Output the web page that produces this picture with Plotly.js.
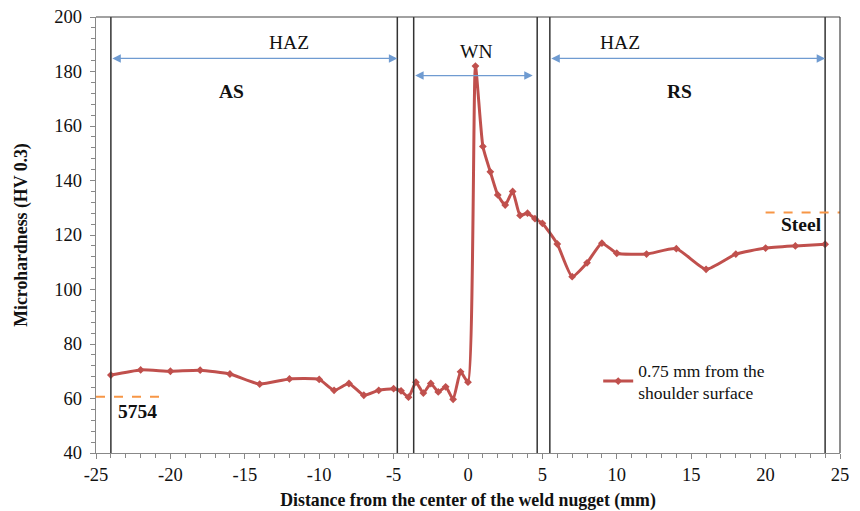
<!DOCTYPE html>
<html>
<head>
<meta charset="utf-8">
<script src="https://cdn.plot.ly/plotly-3.0.1.min.js"></script>
<style>html,body{margin:0;padding:0;background:#fff;}#chart{width:860px;height:511px;}</style>
</head>
<body>
<div id="chart"></div>
<script>
// Data
const distance = [-24,-22,-20,-18,-16,-14,-12,-10,-9,-8,-7,-6,-5,-4.5,-4,-3.5,-3,-2.5,-2,-1.5,-1,-0.5,0,0.5,1,1.5,2,2.5,3,3.5,4,4.5,5,6,7,8,9,10,12,14,16,18,20,22,24];
const hardness = [68.6,70.5,70,70.4,69,65.3,67.2,67,63,65.5,61.2,63,63.6,62.8,60.5,66,62,65.5,62.4,64.3,59.7,69.8,66,182,152.5,143.2,134.7,131,136,127.2,128,126,124.3,116.7,104.7,109.8,117,113.3,113,115,107.4,113,115.2,116,116.6];
const seriesName = "0.75 mm from the<br>shoulder surface";
const zoneBoundaries = [-24, -4.75, -3.65, 4.65, 5.5, 24];
const baseMetal5754 = {x0: -25, x1: -20.4, y: 60.6, label: "5754", lx: -22.2, ly: 55.4};
const baseMetalSteel = {x0: 20, x1: 25, y: 128.3, label: "Steel", lx: 22.4, ly: 123.9};
const zoneArrows = [
  {x0: -24, x1: -4.75, y: 184.8, label: "HAZ", lx: -12.0, ly: 190.5},
  {x0: -3.65, x1: 4.35, y: 178.5, label: "WN", lx: 0.6, ly: 187.5},
  {x0: 5.5, x1: 24, y: 184.8, label: "HAZ", lx: 10.2, ly: 190.5}
];
const sideLabels = [{text: "AS", x: -15.9, y: 172.8}, {text: "RS", x: 14.2, y: 172.8}];
const xTicks = [-25,-20,-15,-10,-5,0,5,10,15,20,25];
const yTicks = [40,60,80,100,120,140,160,180,200];

const serif = "Liberation Serif, serif";
const red = "#c0504d";
const blue = "#6f9bd1";
const orange = "#f79646";

const traces = [{
  x: distance, y: hardness, type: "scatter", mode: "lines+markers",
  name: seriesName,
  line: {color: red, width: 3, shape: "spline", smoothing: 0.5},
  marker: {symbol: "diamond", size: 6, color: red}
}];

const shapes = [];
zoneBoundaries.forEach(b => shapes.push({type: "line", xref: "x", yref: "y", x0: b, x1: b, y0: 40, y1: 200, line: {color: "#333", width: 1.5}}));
[baseMetal5754, baseMetalSteel].forEach(m => shapes.push({type: "line", xref: "x", yref: "y", x0: m.x0, x1: m.x1, y0: m.y, y1: m.y, line: {color: orange, width: 2, dash: "dash"}}));
shapes.push({type: "line", xref: "paper", yref: "paper", x0: 0, x1: 1, y0: 1, y1: 1, line: {color: "#444", width: 1.2}});
shapes.push({type: "line", xref: "paper", yref: "paper", x0: 1, x1: 1, y0: 0, y1: 1, line: {color: "#444", width: 1.2}});

const annFont = {family: serif, size: 19.5, color: "#111"};
const annotations = [];
zoneArrows.forEach(a => {
  annotations.push({x: a.x1, y: a.y, ax: a.x0, ay: a.y, xref: "x", yref: "y", axref: "x", ayref: "y", text: "", showarrow: true, arrowhead: 2, startarrowhead: 2, arrowside: "end+start", arrowsize: 1.3, startarrowsize: 1.3, arrowwidth: 1.3, arrowcolor: blue});
  annotations.push({x: a.lx, y: a.ly, xref: "x", yref: "y", text: a.label, showarrow: false, font: annFont});
});
sideLabels.forEach(s => annotations.push({x: s.x, y: s.y, xref: "x", yref: "y", text: "<b>" + s.text + "</b>", showarrow: false, font: annFont}));
[baseMetal5754, baseMetalSteel].forEach(m => annotations.push({x: m.lx, y: m.ly, xref: "x", yref: "y", text: "<b>" + m.label + "</b>", showarrow: false, font: annFont}));

const layout = {
  width: 860, height: 511,
  margin: {l: 96, r: 20, t: 17, b: 58},
  paper_bgcolor: "#fff", plot_bgcolor: "#fff",
  font: {family: serif, size: 16, color: "#111"},
  showlegend: true,
  legend: {x: 0.675, y: 0.232, xanchor: "left", yanchor: "top", bgcolor: "rgba(0,0,0,0)", font: {family: serif, size: 17.5, color: "#111"}, itemwidth: 30, tracegroupgap: 0},
  xaxis: {
    range: [-25, 25], tickvals: xTicks, ticktext: xTicks.map(String),
    showgrid: false, zeroline: false, showline: true, linecolor: "#888", linewidth: 1.2,
    ticks: "outside", ticklen: 5, tickcolor: "#888",
    minor: {dtick: 1, ticks: "outside", ticklen: 4, tickcolor: "#888", showgrid: false},
    tickfont: {family: serif, size: 18.5, color: "#111"},
    title: {text: "<b>Distance from the center of the weld nugget (mm)</b>", font: {family: serif, size: 17.8, color: "#111"}, standoff: 14}
  },
  yaxis: {
    range: [40, 200], tickvals: yTicks, ticktext: yTicks.map(String),
    showgrid: false, zeroline: false, showline: true, linecolor: "#888", linewidth: 1.2,
    ticks: "outside", ticklen: 5, tickcolor: "#888", ticklabelstandoff: 4,
    minor: {dtick: 4, ticks: "outside", ticklen: 4, tickcolor: "#888", showgrid: false},
    tickfont: {family: serif, size: 18.5, color: "#111"},
    title: {text: "<b>Microhardness (HV 0.3)</b>", font: {family: serif, size: 17.8, color: "#111"}, standoff: 22}
  },
  shapes: shapes,
  annotations: annotations
};

Plotly.newPlot("chart", traces, layout, {staticPlot: true, displayModeBar: false});
</script>
</body>
</html>
